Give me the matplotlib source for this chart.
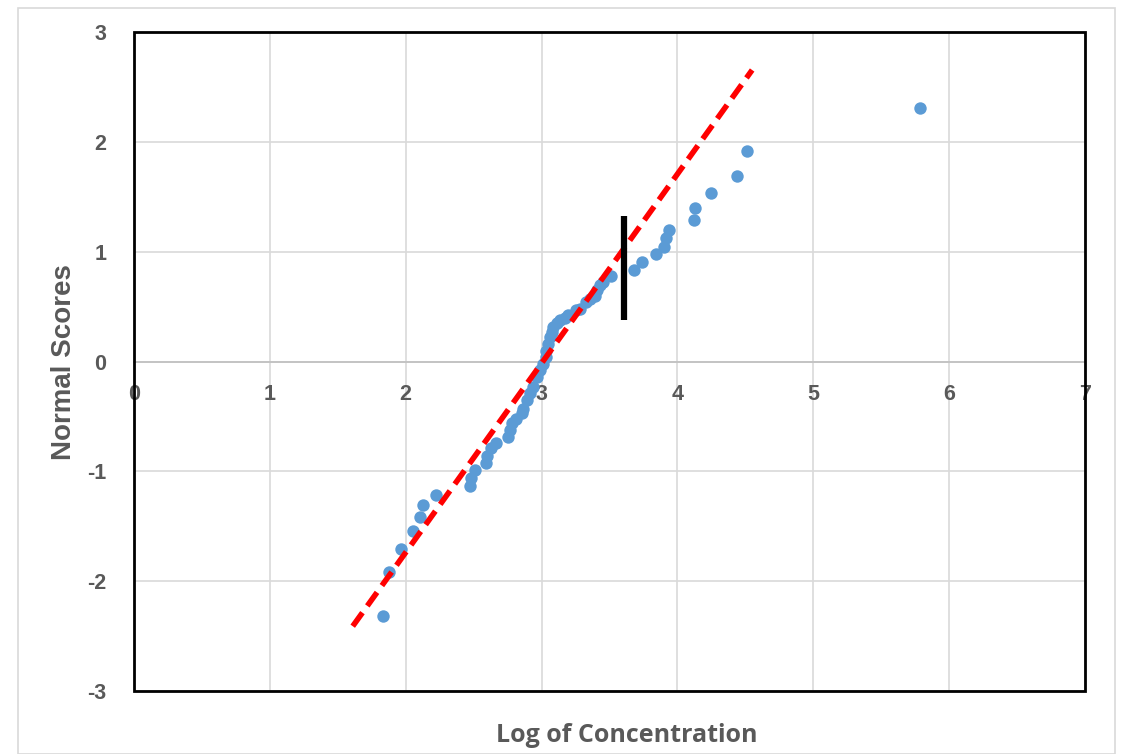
import numpy as np
import matplotlib.pyplot as plt
from matplotlib.patches import Rectangle

plt.rcParams['font.family'] = ['Liberation Sans', 'DejaVu Sans']
plt.rcParams['axes.unicode_minus'] = False

# log concentration vs normal scores
log_conc = [1.83, 1.875, 1.965, 2.05, 2.105, 2.13, 2.22, 2.47, 2.48, 2.51,
            2.59, 2.60, 2.625, 2.665, 2.755, 2.77, 2.78, 2.815, 2.855, 2.865,
            2.89, 2.915, 2.94, 2.965, 2.99, 3.01, 3.03, 3.035, 3.05, 3.06,
            3.075, 3.085, 3.11, 3.135, 3.17, 3.195, 3.25, 3.28, 3.33, 3.36,
            3.39, 3.405, 3.43, 3.455, 3.51, 3.68, 3.74, 3.84, 3.90, 3.915,
            3.94, 4.12, 4.13, 4.25, 4.435, 4.515, 5.785]
normal_scores = [-2.32, -1.92, -1.71, -1.54, -1.42, -1.31, -1.22, -1.13, -1.06, -0.99,
                 -0.92, -0.86, -0.79, -0.74, -0.69, -0.62, -0.56, -0.52, -0.47, -0.43,
                 -0.35, -0.29, -0.23, -0.14, -0.08, -0.02, 0.04, 0.10, 0.16, 0.22,
                 0.27, 0.31, 0.35, 0.38, 0.40, 0.42, 0.47, 0.48, 0.54, 0.57,
                 0.60, 0.65, 0.70, 0.72, 0.78, 0.835, 0.905, 0.975, 1.04, 1.12,
                 1.20, 1.29, 1.40, 1.53, 1.69, 1.92, 2.31]

# fitted line (red dashes) and the break marker (black bar)
fit_x = [1.61, 4.55]
fit_y = [-2.41, 2.654]
break_x = [3.607, 3.607]
break_y = [0.38, 1.325]

xticks = [0, 1, 2, 3, 4, 5, 6, 7]
yticks = [-3, -2, -1, 0, 1, 2, 3]

grey = '#595959'

fig = plt.figure(figsize=(11.23, 7.54), dpi=100)
ax = fig.add_axes([134/1123, 1-691/754, (1085-134)/1123, (691-32)/754])

# outer chart border
fig.patches.append(Rectangle((18/1123, 0), (1115-18)/1123, 1-8/754, transform=fig.transFigure,
                             fill=False, edgecolor='#D9D9D9', lw=1.2))

ax.set_xlim(0, 7)
ax.set_ylim(-3, 3)
ax.set_xticks(xticks)
ax.set_yticks(yticks)
ax.grid(True, color='#D9D9D9', lw=1.2)
ax.set_axisbelow(True)

for s in ['top', 'right', 'left']:
    ax.spines[s].set_visible(False)
ax.spines['bottom'].set_position(('data', 0))
ax.spines['bottom'].set_color('#BFBFBF')
ax.spines['bottom'].set_linewidth(1.2)
ax.add_patch(Rectangle((0, 0), 1, 1, transform=ax.transAxes, fill=False,
                       edgecolor='black', lw=2, zorder=5, clip_on=False))

ax.tick_params(axis='x', length=0, pad=16, labelsize=15.5, labelcolor=grey)
ax.tick_params(axis='y', length=0, pad=20, labelsize=15.5, labelcolor=grey)
for lab in ax.get_xticklabels() + ax.get_yticklabels():
    lab.set_fontweight('bold')

ax.scatter(log_conc, normal_scores, s=80, color='#5B9BD5', zorder=3, linewidths=0)
ax.plot(fit_x, fit_y, color='#FF0000', lw=4, ls=(0, (3, 1.5)), zorder=4)
ax.plot(break_x, break_y, color='black', lw=4.5, zorder=4, solid_capstyle='butt')

fig.text(64/1123, 1-362/754, 'Normal Scores', rotation=90, ha='center', va='center',
         fontsize=20, fontweight='bold', color=grey)
fig.text(627/1123, 1-736/754, 'Log of Concentration', ha='center', va='center',
         fontsize=18, fontweight='bold', color=grey, family=['Open Sans', 'DejaVu Sans'])

fig.savefig('out.png', dpi=100)
